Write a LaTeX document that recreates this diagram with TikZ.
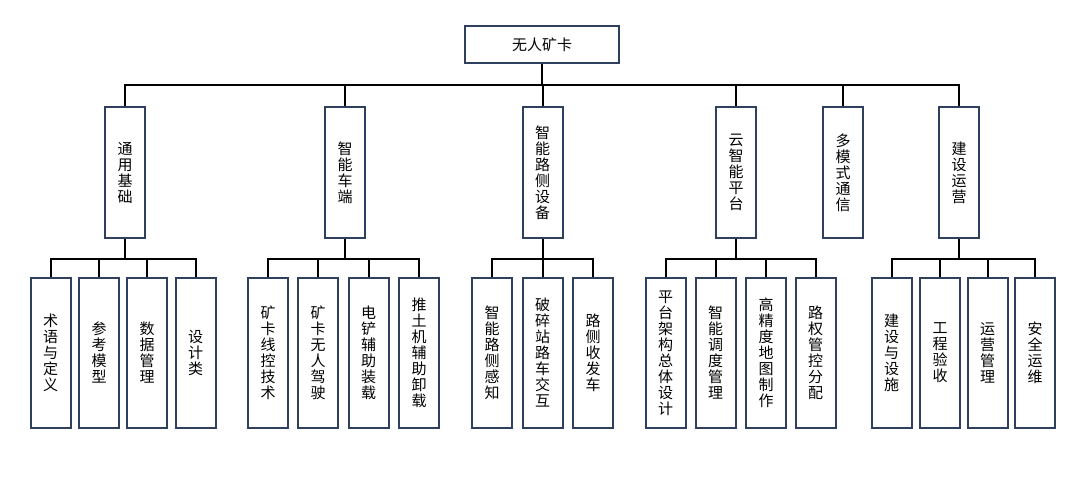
\documentclass[tikz,border=0pt]{standalone}
\usepackage{fontspec}
\newfontfamily\cjk{Noto Sans CJK SC}
\definecolor{boxc}{HTML}{2F3F5E}
\begin{document}
\begin{tikzpicture}[x=1pt,y=-1pt,
  box/.style={draw=boxc,line width=2pt,fill=white,inner sep=0pt,
    align=center,font=\cjk\fontsize{15pt}{16pt}\selectfont},
  lvtwo/.style={box,minimum width=40pt,minimum height=131pt},
  lvthree/.style={box,minimum width=40pt,minimum height=150pt},
  conn/.style={line width=2pt,black}]
\useasboundingbox (0,0) rectangle (1080,478);
\node[box,minimum width=154pt,minimum height=37pt] (root) at (542,44.5) {无人矿卡};
% level 2
\node[lvtwo] (a) at (125,172.5) {通\\用\\基\\础};
\node[lvtwo] (b) at (345,172.5) {智\\能\\车\\端};
\node[lvtwo] (c) at (542.5,172.5) {智\\能\\路\\侧\\设\\备};
\node[lvtwo] (d) at (736,172.5) {云\\智\\能\\平\\台};
\node[lvtwo] (e) at (843,172.5) {多\\模\\式\\通\\信};
\node[lvtwo] (f) at (959,172.5) {建\\设\\运\\营};
% level 3
\node[lvthree] (a1) at (50.5,353) {术\\语\\与\\定\\义};
\node[lvthree] (a2) at (99,353) {参\\考\\模\\型};
\node[lvthree] (a3) at (147,353) {数\\据\\管\\理};
\node[lvthree] (a4) at (195.5,353) {设\\计\\类};
\node[lvthree] (b1) at (268,353) {矿\\卡\\线\\控\\技\\术};
\node[lvthree] (b2) at (318,353) {矿\\卡\\无\\人\\驾\\驶};
\node[lvthree] (b3) at (368.5,353) {电\\铲\\辅\\助\\装\\载};
\node[lvthree] (b4) at (419,353) {推\\土\\机\\辅\\助\\卸\\载};
\node[lvthree] (c1) at (492,353) {智\\能\\路\\侧\\感\\知};
\node[lvthree] (c2) at (542.5,353) {破\\碎\\站\\路\\车\\交\\互};
\node[lvthree] (c3) at (593,353) {路\\侧\\收\\发\\车};
\node[lvthree] (d1) at (665.5,353) {平\\台\\架\\构\\总\\体\\设\\计};
\node[lvthree] (d2) at (715.5,353) {智\\能\\调\\度\\管\\理};
\node[lvthree] (d3) at (766,353) {高\\精\\度\\地\\图\\制\\作};
\node[lvthree] (d4) at (815.5,353) {路\\权\\管\\控\\分\\配};
\node[lvthree] (f1) at (891.5,353) {建\\设\\与\\设\\施};
\node[lvthree] (f2) at (940,353) {工\\程\\验\\收};
\node[lvthree] (f3) at (987.5,353) {运\\营\\管\\理};
\node[lvthree] (f4) at (1035,353) {安\\全\\运\\维};
% buses
\coordinate (bus) at (0,85);
\coordinate (sub) at (0,259);
\draw[conn] (root.south) -- (root.south |- bus);
\draw[conn] (a.north) -- (a.north |- bus) -- (f.north |- bus) -- (f.north);
\foreach \n in {b,c,d,e} \draw[conn] (\n.north) -- (\n.north |- bus);
\foreach \p/\first/\last/\mids in {a/a1/a4/{a2,a3},b/b1/b4/{b2,b3},c/c1/c3/{c2},d/d1/d4/{d2,d3},f/f1/f4/{f2,f3}}{
  \draw[conn] (\p.south) -- (\p.south |- sub);
  \draw[conn] (\first.north) -- (\first.north |- sub) -- (\last.north |- sub) -- (\last.north);
  \foreach \m in \mids \draw[conn] (\m.north) -- (\m.north |- sub);
}
\end{tikzpicture}
\end{document}
